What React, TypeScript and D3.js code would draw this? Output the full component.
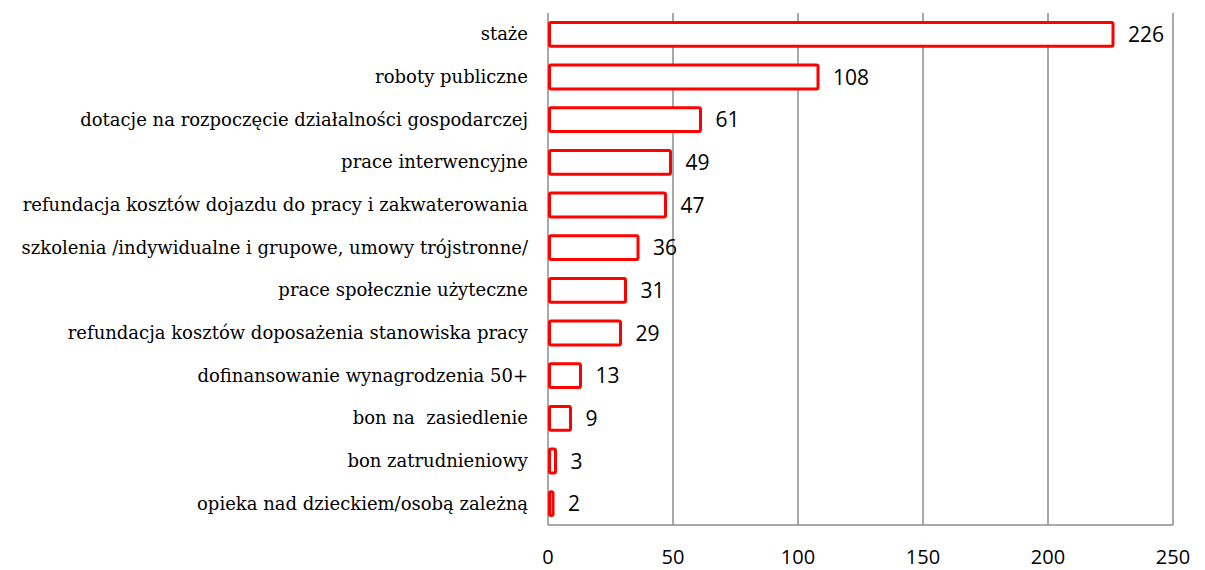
import React from "react";
import * as d3 from "d3";

const categories = [
  "staże",
  "roboty publiczne",
  "dotacje na rozpoczęcie działalności gospodarczej",
  "prace interwencyjne",
  "refundacja kosztów dojazdu do pracy i zakwaterowania",
  "szkolenia /indywidualne i grupowe, umowy trójstronne/",
  "prace społecznie użyteczne",
  "refundacja kosztów doposażenia stanowiska pracy",
  "dofinansowanie wynagrodzenia 50+",
  "bon na  zasiedlenie",
  "bon zatrudnieniowy",
  "opieka nad dzieckiem/osobą zależną",
];
const values = [226, 108, 61, 49, 47, 36, 31, 29, 13, 9, 3, 2];
const xTicks = [0, 50, 100, 150, 200, 250];

export default function App() {
  const W = 1205, H = 570;
  const left = 548, right = 1173, top = 13, bottom = 525;
  const x = d3.scaleLinear().domain([0, 250]).range([left, right]);
  const y = d3.scaleBand().domain(categories).range([top, bottom]).paddingInner(0.44).paddingOuter(0.22);
  return (
    <svg width={W} height={H} style={{ position: "absolute", left: 0, top: 0 }}>
      <rect width={W} height={H} fill="#fff" />
      {xTicks.map((t) => (
        <line key={t} x1={x(t)} x2={x(t)} y1={top} y2={bottom} stroke="#8c8c8c" strokeWidth={1.5} />
      ))}
      <line x1={left} x2={right} y1={bottom} y2={bottom} stroke="#8c8c8c" strokeWidth={1.5} />
      {categories.map((c, i) => {
        const yy = y(c)!;
        const bw = y.bandwidth();
        return (
          <g key={c}>
            <rect x={x(0) + 1.5} y={yy} width={Math.max(x(values[i]) - x(0) - 1.5, 0.5)} height={bw}
              fill="#fff" stroke="#ff0000" strokeWidth={3} rx={1.5} />
            <text x={x(values[i]) + 15} y={yy + bw / 2} dy="0.36em" fontFamily="'Open Sans', 'Liberation Sans', sans-serif"
              fontSize={21} fill="#000">{values[i]}</text>
            <text x={528} y={yy + bw / 2} dy="0.33em" textAnchor="end" fontFamily="'DejaVu Serif', serif"
              fontSize={18} fill="#000" style={{ whiteSpace: "pre" }}>{c}</text>
          </g>
        );
      })}
      {xTicks.map((t) => (
        <text key={t} x={x(t)} y={564} textAnchor="middle" fontFamily="'Open Sans', 'Liberation Sans', sans-serif"
          fontSize={20} fill="#000">{t}</text>
      ))}
    </svg>
  );
}
